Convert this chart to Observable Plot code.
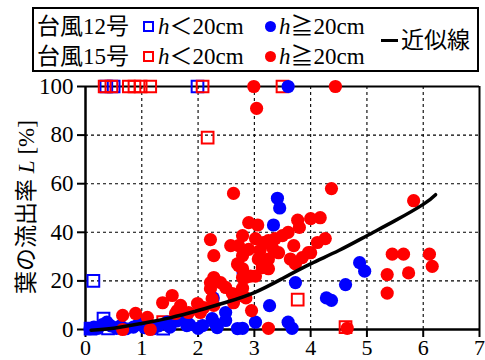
<!DOCTYPE html>
<html><head><meta charset="utf-8">
<script src="https://cdn.jsdelivr.net/npm/d3@7"></script>
<script src="https://cdn.jsdelivr.net/npm/@observablehq/plot@0.6"></script>
<style>
body{margin:0;background:#fff;}
#wrap{position:relative;width:485px;height:360px;overflow:hidden;}
#legend{position:absolute;left:32px;top:7px;width:447px;height:65px;border:2px solid #000;box-sizing:border-box;background:#fff;font-family:"Liberation Serif","Noto Sans CJK JP",serif;font-size:23px;color:#000;}
#legend span{position:absolute;line-height:23px;white-space:nowrap;}
#legend i{font-style:italic;}
.sq{position:absolute;width:11px;height:11px;border:2px solid;box-sizing:border-box;}
.ci{position:absolute;width:11px;height:11px;border-radius:50%;}
</style></head>
<body>
<div id="wrap"></div>
<script>
// Typhoon No.12, h < 20cm (blue squares)
const t12sX = [0.37, 0.50, 1.99, 0.14, 0.32, 0.09, 0.40, 1.38];
const t12sY = [100, 100, 100, 20, 4.5, 0.4, 0.5, 0.4];
// Typhoon No.15, h < 20cm (red squares)
const t15sX = [0.34, 0.46, 0.77, 0.87, 0.98, 1.15, 2.08, 2.17, 3.50, 3.77, 4.62, 1.38];
const t15sY = [100, 100, 100, 100, 100, 100, 100, 79, 100, 12.3, 1, 3];
// Typhoon No.12, h >= 20cm (blue circles)
const t12cX = [3.60, 3.41, 3.45, 3.34, 4.87, 4.96, 4.62, 4.28, 4.37, 3.73, 3.27, 3.02, 3.60, 3.67, 2.79, 2.80, 2.27, 2.49, 2.25, 2.49, 2.30, 2.08, 1.78, 1.80, 2.34, 2.00, 2.70,
  0.08, 0.15, 0.22, 0.30, 0.38, 0.45, 0.55, 0.62, 0.72, 0.85, 0.95, 1.05, 1.20, 1.30, 1.45, 1.50, 1.62, 1.85];
const t12cY = [100, 54, 50, 43, 27.5, 24, 18.5, 13, 12, 19.3, 9.8, 3, 3, 0.5, 0.5, 23.4, 13, 7, 4.5, 3.7, 2.5, 1.6, 4.5, 1.6, 0.8, 0.5, 0.4,
  0.3, 1, 0.5, 2, 3, 1.5, 0.5, 1.5, 0.3, 1, 2.5, 0.8, 0.3, 1.5, 3, 1, 3.5, 2];
// Typhoon No.15, h >= 20cm (red circles)
const t15cX = [2.99, 4.44, 3.04, 4.37, 5.83, 5.45, 5.65, 6.11, 6.16, 5.36, 5.74, 5.36, 4.65, 3.25, 2.95, 2.63,
  4.17, 4.00, 3.77, 3.80, 2.90, 3.06, 3.60, 3.50, 3.37, 3.25, 3.16, 3.02, 2.79, 2.72, 2.90, 3.10, 3.32, 3.70, 4.26, 4.12, 4.00, 3.85, 3.64, 3.43, 3.25, 3.07, 2.79, 3.14, 3.25, 3.73, 2.70, 2.79, 2.93, 3.02, 2.79, 2.85, 2.79,
  2.22, 2.28, 2.58, 2.72, 2.84, 2.28, 2.22, 2.40, 2.49, 2.22, 2.61, 2.75, 2.25, 2.10, 2.28, 1.99, 1.54, 1.69, 1.83, 2.04, 1.63, 1.37, 0.66, 0.89, 1.10, 0.66, 1.15, 1.60, 2.63, 3.96];
const t15cY = [100, 100, 91, 58, 53, 31, 31, 31, 26, 22.6, 23.3, 15, 0.5, 0.5, 7.8, 56,
  46, 45.6, 45, 42, 44, 43, 40, 38.6, 37.4, 36.6, 35.8, 37.4, 38.6, 34.5, 33, 32.5, 33.7, 34.5, 37.4, 35.8, 31.6, 29.6, 29, 31.6, 29, 29, 30.4, 25.5, 25, 27, 27, 25, 22, 22, 21.4, 13, 17,
  37, 30.4, 34.5, 26.3, 21.4, 21.4, 19.3, 19.3, 17.3, 16.8, 14.8, 14, 12.7, 9, 9.9, 10.7, 14, 9.9, 7, 7, 7.8, 11, 5.8, 6.6, 5, 0, 0, 6.6, 11, 31.6];
// Approximation curve
const fitX = [0.1, 0.5, 1, 1.5, 2, 2.5, 3, 3.5, 4, 4.5, 5, 5.5, 6, 6.22];
const fitY = [-0.3, 0.5, 2.5, 4.8, 7.8, 11.2, 15.2, 21, 27, 32.5, 38.6, 44.8, 51.5, 55.5];
const xTicks = [0, 1, 2, 3, 4, 5, 6, 7];
const yTicks = [0, 20, 40, 60, 80, 100];

const rows = (xs, ys) => xs.map((x, i) => ({x, y: ys[i]}));

const plot = Plot.plot({
  width: 485, height: 360,
  marginLeft: 85, marginRight: 6, marginTop: 86, marginBottom: 31,
  style: {fontFamily: "'Liberation Serif', serif", fontSize: "23px", color: "#000", background: "#fff", overflow: "visible"},
  x: {domain: [0, 7]},
  y: {domain: [0, 100]},
  marks: [
    Plot.gridX([1, 2, 3, 4, 5, 6], {stroke: "#000", strokeOpacity: 1, strokeWidth: 1.1, strokeDasharray: "3,3"}),
    Plot.gridY([20, 40, 60, 80], {stroke: "#000", strokeOpacity: 1, strokeWidth: 1.1, strokeDasharray: "3,3"}),
    Plot.ruleY([100], {stroke: "#000", strokeWidth: 2}),
    Plot.ruleX([7], {stroke: "#000", strokeWidth: 2}),
    Plot.axisX({ticks: xTicks, tickFormat: d => String(d), tickSize: 8, tickPadding: 2, strokeWidth: 2, label: null, fontSize: 22}),
    Plot.axisY({ticks: yTicks, tickFormat: d => String(d), tickSize: 8, tickPadding: 4, strokeWidth: 2, label: null, fontSize: 23}),
    Plot.ruleY([0], {stroke: "#000", strokeWidth: 2.5}),
    Plot.ruleX([0], {stroke: "#000", strokeWidth: 2.5}),
    Plot.dot(rows(t12sX, t12sY), {x: "x", y: "y", symbol: "square", r: 6.6, stroke: "#0000ff", strokeWidth: 2, fill: "none"}),
    Plot.dot(rows(t15sX, t15sY), {x: "x", y: "y", symbol: "square", r: 6.6, stroke: "#ff0000", strokeWidth: 2, fill: "none"}),
    Plot.dot(rows(t12cX, t12cY), {x: "x", y: "y", symbol: "circle", r: 6.6, fill: "#0000ff", stroke: "none"}),
    Plot.dot(rows(t15cX, t15cY), {x: "x", y: "y", symbol: "circle", r: 6.6, fill: "#ff0000", stroke: "none"}),
    Plot.line(rows(fitX, fitY), {x: "x", y: "y", curve: "natural", stroke: "#000", strokeWidth: 3.5})
  ]
});

const wrap = document.getElementById("wrap");
wrap.appendChild(plot);

// y-axis label with italic L
const svg = d3.select(plot);
const lab = svg.append("text")
  .attr("transform", "translate(26,207) rotate(-90)")
  .attr("text-anchor", "middle")
  .attr("dominant-baseline", "central")
  .attr("font-family", "'Liberation Serif','Noto Sans CJK JP',serif")
  .attr("font-size", 23)
  .attr("fill", "#000");
lab.append("tspan").text("葉の流出率 ");
lab.append("tspan").attr("font-style", "italic").text("L");
lab.append("tspan").text(" [%]");

// legend
const legendRows = ["台風12号", "台風15号"];
const legendColors = ["#0000ff", "#ff0000"];
const legendLine = "近似線";
const lg = document.createElement("div");
lg.id = "legend";
const centers = [26.5, 56];
let html = "";
legendRows.forEach((name, i) => {
  const c = centers[i] - 9;
  html += `<span style="left:3px;top:${c - 11.5}px">${name}</span>`;
  html += `<div class="sq" style="left:109px;top:${c - 5.5}px;border-color:${legendColors[i]}"></div>`;
  html += `<span style="left:124px;top:${c - 11.5}px"><i>h</i>＜20cm</span>`;
  html += `<div class="ci" style="left:231px;top:${c - 5.5}px;background:${legendColors[i]}"></div>`;
  html += `<span style="left:245px;top:${c - 11.5}px"><i>h</i>≧20cm</span>`;
});
html += `<div style="position:absolute;left:347px;top:29.5px;width:17px;height:3px;background:#000"></div>`;
html += `<span style="left:367px;top:20px">${legendLine}</span>`;
lg.innerHTML = html;
wrap.appendChild(lg);
</script>
</body></html>
